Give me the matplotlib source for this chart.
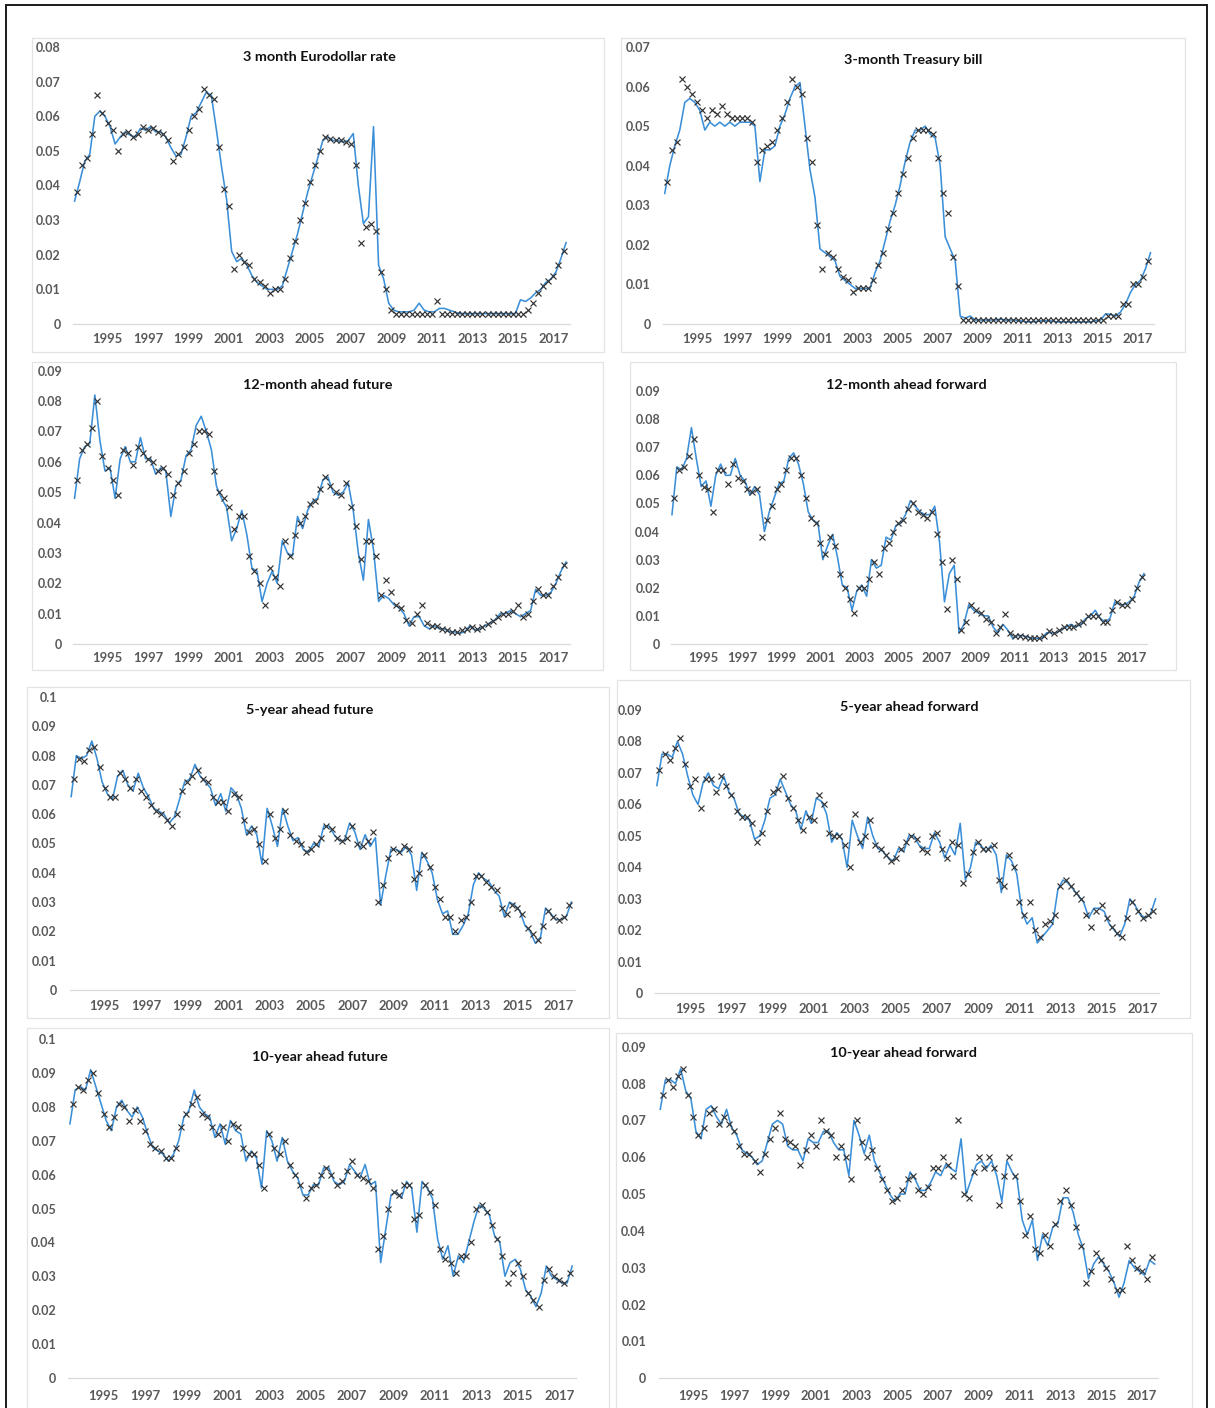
import numpy as np
import matplotlib
matplotlib.use("Agg")
import matplotlib.pyplot as plt
from matplotlib.patches import Rectangle

plt.rcParams["font.family"] = ["Lato", "DejaVu Sans"]

W, H, DPI = 1215, 1408, 100

# Quarterly observation dates (mid-quarter) for the actual series, 1993Q2 .. 2017Q3
LINE_YEARS = [1993] * 3 + [y for y in range(1994, 2017) for _ in range(4)] + [2017] * 3
LINE_QTRS = [2, 3, 4] + [1, 2, 3, 4] * 23 + [1, 2, 3]
# Model values, dated at quarter starts, 1993Q3 .. 2017Q3
MARK_YEARS = [1993] * 2 + [y for y in range(1994, 2017) for _ in range(4)] + [2017] * 3
MARK_QTRS = [3, 4] + [1, 2, 3, 4] * 23 + [1, 2, 3]

YEAR_TICKS = list(range(1995, 2018, 2))
YEAR_LABELS = [str(y) for y in YEAR_TICKS]

TITLES = ["3 month Eurodollar rate", "3-month Treasury bill",
          "12-month ahead future", "12-month ahead forward",
          "5-year ahead future", "5-year ahead forward",
          "10-year ahead future", "10-year ahead forward"]
Y_MAX = [0.08, 0.07, 0.09, 0.09, 0.10, 0.09, 0.10, 0.09]

eurodollar_actual = [
    0.0355, 0.041, 0.047,
    0.049, 0.060, 0.0615, 0.060,
    0.057, 0.052, 0.054, 0.0555,
    0.0545, 0.054, 0.0565, 0.056,
    0.057, 0.0555, 0.0555, 0.054,
    0.051, 0.0485, 0.049, 0.054,
    0.060, 0.061, 0.064, 0.067,
    0.066, 0.056, 0.0455, 0.036,
    0.021, 0.018, 0.019, 0.017,
    0.014, 0.012, 0.011, 0.010,
    0.010, 0.010, 0.011, 0.016,
    0.021, 0.026, 0.032, 0.038,
    0.043, 0.048, 0.053, 0.054,
    0.053, 0.053, 0.0525, 0.053,
    0.055, 0.040, 0.029, 0.031,
    0.057, 0.017, 0.013, 0.006,
    0.004, 0.0035, 0.0035, 0.0035,
    0.004, 0.006, 0.004, 0.0035,
    0.0035, 0.0045, 0.0045, 0.004,
    0.0035, 0.003, 0.003, 0.003,
    0.003, 0.003, 0.003, 0.003,
    0.003, 0.003, 0.003, 0.003,
    0.003, 0.007, 0.0065, 0.0075,
    0.009, 0.010, 0.012, 0.013,
    0.015, 0.019, 0.0235]
eurodollar_model = [
    0.038, 0.046,
    0.048, 0.055, 0.066, 0.061,
    0.058, 0.056, 0.050, 0.055,
    0.0555, 0.054, 0.055, 0.057,
    0.056, 0.0565, 0.0555, 0.055,
    0.053, 0.047, 0.049, 0.051,
    0.056, 0.060, 0.062, 0.068,
    0.066, 0.065, 0.051, 0.039,
    0.034, 0.016, 0.020, 0.018,
    0.017, 0.013, 0.012, 0.011,
    0.009, 0.010, 0.010, 0.013,
    0.019, 0.024, 0.030, 0.035,
    0.041, 0.046, 0.050, 0.054,
    0.0535, 0.053, 0.053, 0.0525,
    0.052, 0.046, 0.0235, 0.028,
    0.029, 0.027, 0.015, 0.010,
    0.004, 0.003, 0.003, 0.003,
    0.003, 0.003, 0.003, 0.003,
    0.003, 0.0065, 0.003, 0.003,
    0.003, 0.003, 0.003, 0.003,
    0.003, 0.003, 0.003, 0.003,
    0.003, 0.003, 0.003, 0.003,
    0.003, 0.003, 0.003, 0.004,
    0.006, 0.009, 0.011, 0.0125,
    0.014, 0.017, 0.021]

tbill_actual = [
    0.033, 0.040, 0.045,
    0.049, 0.056, 0.057, 0.056,
    0.054, 0.049, 0.051, 0.050,
    0.051, 0.050, 0.051, 0.050,
    0.051, 0.051, 0.051, 0.050,
    0.036, 0.044, 0.044, 0.045,
    0.050, 0.053, 0.057, 0.060,
    0.061, 0.050, 0.039, 0.032,
    0.019, 0.018, 0.017, 0.016,
    0.012, 0.011, 0.010, 0.009,
    0.009, 0.009, 0.009, 0.013,
    0.016, 0.021, 0.026, 0.030,
    0.035, 0.041, 0.046, 0.049,
    0.049, 0.050, 0.048, 0.047,
    0.040, 0.022, 0.019, 0.016,
    0.002, 0.0015, 0.002, 0.001,
    0.001, 0.001, 0.001, 0.001,
    0.0012, 0.001, 0.001, 0.001,
    0.0008, 0.0006, 0.0005, 0.0006,
    0.0008, 0.0008, 0.0008, 0.0006,
    0.0005, 0.0005, 0.0005, 0.0005,
    0.0005, 0.0005, 0.0005, 0.0008,
    0.001, 0.0025, 0.0025, 0.002,
    0.003, 0.005, 0.008, 0.010,
    0.011, 0.014, 0.018]
tbill_model = [
    0.036, 0.044,
    0.046, 0.062, 0.060, 0.058,
    0.056, 0.054, 0.052, 0.054,
    0.053, 0.055, 0.053, 0.052,
    0.052, 0.052, 0.052, 0.051,
    0.041, 0.044, 0.045, 0.046,
    0.049, 0.052, 0.056, 0.062,
    0.060, 0.058, 0.047, 0.041,
    0.025, 0.014, 0.018, 0.017,
    0.014, 0.012, 0.011, 0.008,
    0.009, 0.009, 0.009, 0.011,
    0.015, 0.018, 0.024, 0.028,
    0.033, 0.038, 0.042, 0.047,
    0.049, 0.049, 0.049, 0.048,
    0.042, 0.033, 0.028, 0.017,
    0.0095, 0.001, 0.001, 0.001,
    0.001, 0.001, 0.001, 0.001,
    0.001, 0.001, 0.001, 0.001,
    0.001, 0.001, 0.001, 0.001,
    0.001, 0.001, 0.001, 0.001,
    0.001, 0.001, 0.001, 0.001,
    0.001, 0.001, 0.001, 0.001,
    0.001, 0.001, 0.002, 0.002,
    0.002, 0.005, 0.005, 0.010,
    0.010, 0.012, 0.016]

future12_actual = [
    0.048, 0.061, 0.065,
    0.066, 0.082, 0.067, 0.057,
    0.058, 0.048, 0.061, 0.065,
    0.060, 0.060, 0.068, 0.061,
    0.061, 0.056, 0.058, 0.057,
    0.042, 0.052, 0.054, 0.062,
    0.064, 0.072, 0.075, 0.070,
    0.064, 0.052, 0.048, 0.045,
    0.034, 0.038, 0.044, 0.036,
    0.025, 0.024, 0.014, 0.020,
    0.024, 0.020, 0.034, 0.030,
    0.029, 0.042, 0.038, 0.044,
    0.047, 0.048, 0.054, 0.055,
    0.050, 0.049, 0.050, 0.053,
    0.044, 0.030, 0.021, 0.041,
    0.031, 0.014, 0.016, 0.015,
    0.013, 0.012, 0.010, 0.006,
    0.009, 0.009, 0.006, 0.005,
    0.006, 0.005, 0.005, 0.004,
    0.004, 0.0035, 0.004, 0.006,
    0.0045, 0.005, 0.006, 0.007,
    0.008, 0.010, 0.010, 0.011,
    0.010, 0.009, 0.010, 0.011,
    0.018, 0.016, 0.016, 0.017,
    0.020, 0.024, 0.027]
future12_model = [
    0.054, 0.064,
    0.066, 0.071, 0.080, 0.062,
    0.058, 0.054, 0.049, 0.064,
    0.063, 0.059, 0.065, 0.063,
    0.061, 0.060, 0.057, 0.058,
    0.056, 0.049, 0.053, 0.057,
    0.063, 0.066, 0.070, 0.070,
    0.069, 0.057, 0.050, 0.048,
    0.045, 0.038, 0.042, 0.042,
    0.029, 0.024, 0.020, 0.013,
    0.025, 0.022, 0.019, 0.034,
    0.029, 0.036, 0.040, 0.042,
    0.046, 0.047, 0.051, 0.055,
    0.052, 0.050, 0.049, 0.053,
    0.045, 0.039, 0.028, 0.034,
    0.034, 0.029, 0.016, 0.021,
    0.017, 0.013, 0.012, 0.008,
    0.007, 0.010, 0.013, 0.007,
    0.006, 0.006, 0.005, 0.0045,
    0.004, 0.004, 0.0045, 0.005,
    0.0055, 0.005, 0.0055, 0.0065,
    0.0075, 0.009, 0.010, 0.010,
    0.011, 0.013, 0.009, 0.010,
    0.014, 0.018, 0.016, 0.016,
    0.019, 0.022, 0.026]

forward12_actual = [
    0.046, 0.063, 0.062,
    0.066, 0.077, 0.066, 0.056,
    0.058, 0.049, 0.060, 0.064,
    0.060, 0.060, 0.066, 0.060,
    0.058, 0.053, 0.056, 0.053,
    0.040, 0.047, 0.052, 0.057,
    0.058, 0.066, 0.068, 0.064,
    0.057, 0.047, 0.044, 0.043,
    0.030, 0.035, 0.039, 0.031,
    0.021, 0.020, 0.012, 0.019,
    0.021, 0.017, 0.030, 0.027,
    0.028, 0.038, 0.037, 0.042,
    0.043, 0.046, 0.051, 0.049,
    0.047, 0.046, 0.046, 0.049,
    0.036, 0.015, 0.025, 0.028,
    0.004, 0.007, 0.014, 0.012,
    0.011, 0.010, 0.010, 0.006,
    0.004, 0.007, 0.005, 0.002,
    0.003, 0.003, 0.0025, 0.002,
    0.002, 0.002, 0.004, 0.004,
    0.004, 0.005, 0.006, 0.007,
    0.006, 0.007, 0.009, 0.010,
    0.012, 0.009, 0.008, 0.009,
    0.015, 0.014, 0.014, 0.015,
    0.017, 0.022, 0.025]
forward12_model = [
    0.052, 0.062,
    0.063, 0.067, 0.073, 0.060,
    0.056, 0.055, 0.047, 0.062,
    0.062, 0.057, 0.064, 0.059,
    0.058, 0.055, 0.054, 0.055,
    0.038, 0.044, 0.049, 0.055,
    0.057, 0.062, 0.066, 0.066,
    0.060, 0.052, 0.045, 0.043,
    0.036, 0.032, 0.038, 0.035,
    0.025, 0.020, 0.016, 0.011,
    0.020, 0.020, 0.023, 0.029,
    0.025, 0.034, 0.036, 0.040,
    0.043, 0.044, 0.048, 0.050,
    0.047, 0.046, 0.045, 0.047,
    0.039, 0.029, 0.0125, 0.030,
    0.023, 0.005, 0.008, 0.014,
    0.012, 0.011, 0.009, 0.008,
    0.004, 0.006, 0.0105, 0.004,
    0.003, 0.003, 0.0025, 0.002,
    0.002, 0.002, 0.003, 0.0045,
    0.004, 0.005, 0.006, 0.006,
    0.006, 0.007, 0.008, 0.010,
    0.010, 0.010, 0.008, 0.008,
    0.012, 0.015, 0.014, 0.014,
    0.016, 0.020, 0.024]

future5_actual = [
    0.066, 0.080, 0.079,
    0.080, 0.085, 0.079, 0.071,
    0.067, 0.065, 0.073, 0.075,
    0.070, 0.068, 0.074, 0.069,
    0.066, 0.062, 0.061, 0.060,
    0.057, 0.059, 0.065, 0.071,
    0.072, 0.077, 0.073, 0.071,
    0.069, 0.063, 0.067, 0.061,
    0.069, 0.067, 0.062, 0.053,
    0.056, 0.053, 0.043, 0.062,
    0.056, 0.049, 0.062, 0.056,
    0.051, 0.052, 0.048, 0.047,
    0.050, 0.049, 0.056, 0.056,
    0.053, 0.051, 0.051, 0.057,
    0.054, 0.048, 0.053, 0.049,
    0.052, 0.029, 0.039, 0.048,
    0.048, 0.047, 0.049, 0.046,
    0.034, 0.047, 0.044, 0.040,
    0.031, 0.026, 0.027, 0.019,
    0.019, 0.022, 0.026, 0.036,
    0.040, 0.038, 0.037, 0.034,
    0.032, 0.025, 0.030, 0.029,
    0.027, 0.022, 0.020, 0.016,
    0.018, 0.028, 0.026, 0.024,
    0.024, 0.025, 0.030]
future5_model = [
    0.072, 0.079,
    0.078, 0.082, 0.083, 0.076,
    0.069, 0.066, 0.066, 0.074,
    0.072, 0.069, 0.072, 0.068,
    0.066, 0.063, 0.061, 0.060,
    0.058, 0.056, 0.060, 0.068,
    0.071, 0.073, 0.075, 0.072,
    0.071, 0.066, 0.064, 0.064,
    0.061, 0.067, 0.066, 0.058,
    0.054, 0.055, 0.050, 0.044,
    0.060, 0.052, 0.055, 0.061,
    0.053, 0.051, 0.050, 0.047,
    0.048, 0.050, 0.052, 0.056,
    0.055, 0.052, 0.051, 0.052,
    0.056, 0.050, 0.049, 0.051,
    0.054, 0.030, 0.036, 0.045,
    0.048, 0.047, 0.049, 0.048,
    0.038, 0.040, 0.046, 0.042,
    0.035, 0.031, 0.025, 0.025,
    0.020, 0.024, 0.025, 0.030,
    0.039, 0.039, 0.037, 0.035,
    0.034, 0.028, 0.026, 0.029,
    0.028, 0.026, 0.021, 0.019,
    0.017, 0.022, 0.027, 0.025,
    0.024, 0.025, 0.029]

forward5_actual = [
    0.066, 0.076, 0.076,
    0.075, 0.080, 0.076, 0.069,
    0.063, 0.060, 0.067, 0.070,
    0.066, 0.065, 0.069, 0.064,
    0.062, 0.057, 0.056, 0.055,
    0.049, 0.050, 0.055, 0.062,
    0.063, 0.068, 0.064, 0.060,
    0.058, 0.052, 0.058, 0.054,
    0.062, 0.061, 0.057, 0.048,
    0.051, 0.049, 0.040, 0.055,
    0.050, 0.046, 0.056, 0.050,
    0.046, 0.045, 0.043, 0.042,
    0.046, 0.045, 0.050, 0.050,
    0.047, 0.046, 0.046, 0.051,
    0.048, 0.043, 0.047, 0.044,
    0.054, 0.036, 0.040, 0.048,
    0.047, 0.045, 0.047, 0.044,
    0.032, 0.044, 0.042, 0.038,
    0.026, 0.022, 0.024, 0.016,
    0.018, 0.020, 0.022, 0.033,
    0.036, 0.035, 0.033, 0.031,
    0.029, 0.024, 0.027, 0.027,
    0.026, 0.022, 0.020, 0.018,
    0.022, 0.030, 0.028, 0.025,
    0.024, 0.025, 0.030]
forward5_model = [
    0.071, 0.076,
    0.074, 0.078, 0.081, 0.073,
    0.066, 0.068, 0.059, 0.068,
    0.068, 0.064, 0.069, 0.066,
    0.063, 0.058, 0.056, 0.056,
    0.054, 0.048, 0.051, 0.058,
    0.064, 0.065, 0.069, 0.062,
    0.059, 0.055, 0.052, 0.056,
    0.055, 0.063, 0.060, 0.051,
    0.050, 0.050, 0.047, 0.040,
    0.057, 0.048, 0.050, 0.055,
    0.047, 0.046, 0.044, 0.042,
    0.043, 0.046, 0.048, 0.050,
    0.049, 0.046, 0.045, 0.050,
    0.051, 0.046, 0.043, 0.048,
    0.047, 0.035, 0.038, 0.045,
    0.048, 0.046, 0.046, 0.047,
    0.036, 0.034, 0.044, 0.040,
    0.029, 0.025, 0.029, 0.020,
    0.018, 0.022, 0.023, 0.025,
    0.034, 0.036, 0.034, 0.032,
    0.030, 0.025, 0.021, 0.026,
    0.028, 0.024, 0.021, 0.019,
    0.018, 0.024, 0.029, 0.026,
    0.024, 0.025, 0.026]

future10_actual = [
    0.075, 0.085, 0.086,
    0.085, 0.091, 0.086, 0.081,
    0.076, 0.073, 0.080, 0.082,
    0.079, 0.077, 0.080, 0.077,
    0.072, 0.068, 0.067, 0.066,
    0.064, 0.066, 0.070, 0.077,
    0.079, 0.085, 0.080, 0.078,
    0.077, 0.071, 0.075, 0.069,
    0.076, 0.073, 0.072, 0.064,
    0.067, 0.065, 0.056, 0.073,
    0.070, 0.064, 0.071, 0.064,
    0.061, 0.059, 0.054, 0.054,
    0.057, 0.057, 0.062, 0.062,
    0.058, 0.057, 0.058, 0.063,
    0.061, 0.059, 0.063, 0.057,
    0.058, 0.034, 0.044, 0.054,
    0.055, 0.053, 0.058, 0.056,
    0.043, 0.058, 0.056, 0.053,
    0.041, 0.035, 0.039, 0.030,
    0.036, 0.034, 0.040, 0.046,
    0.051, 0.050, 0.048, 0.042,
    0.040, 0.030, 0.034, 0.035,
    0.032, 0.026, 0.024, 0.021,
    0.025, 0.033, 0.030, 0.029,
    0.028, 0.028, 0.033]
future10_model = [
    0.081, 0.086,
    0.085, 0.088, 0.090, 0.084,
    0.078, 0.074, 0.077, 0.081,
    0.080, 0.076, 0.079, 0.076,
    0.073, 0.069, 0.068, 0.067,
    0.065, 0.065, 0.068, 0.074,
    0.078, 0.081, 0.083, 0.078,
    0.077, 0.074, 0.072, 0.074,
    0.070, 0.075, 0.074, 0.068,
    0.066, 0.066, 0.063, 0.056,
    0.072, 0.068, 0.066, 0.070,
    0.063, 0.060, 0.057, 0.053,
    0.056, 0.057, 0.060, 0.062,
    0.060, 0.057, 0.058, 0.061,
    0.064, 0.060, 0.059, 0.058,
    0.056, 0.038, 0.042, 0.050,
    0.055, 0.054, 0.057, 0.057,
    0.047, 0.048, 0.057, 0.055,
    0.051, 0.038, 0.035, 0.034,
    0.031, 0.036, 0.036, 0.040,
    0.050, 0.051, 0.049, 0.045,
    0.041, 0.036, 0.028, 0.031,
    0.034, 0.030, 0.025, 0.023,
    0.021, 0.029, 0.032, 0.030,
    0.029, 0.028, 0.031]

forward10_actual = [
    0.073, 0.081, 0.081,
    0.080, 0.084, 0.078, 0.076,
    0.067, 0.065, 0.073, 0.074,
    0.071, 0.069, 0.073, 0.068,
    0.066, 0.062, 0.061, 0.060,
    0.058, 0.059, 0.064, 0.069,
    0.070, 0.069, 0.063, 0.062,
    0.062, 0.059, 0.065, 0.064,
    0.064, 0.067, 0.067, 0.064,
    0.062, 0.062, 0.055, 0.070,
    0.066, 0.061, 0.066, 0.059,
    0.056, 0.053, 0.050, 0.048,
    0.050, 0.050, 0.056, 0.054,
    0.051, 0.051, 0.053, 0.056,
    0.055, 0.058, 0.057, 0.056,
    0.065, 0.050, 0.054, 0.058,
    0.059, 0.057, 0.059, 0.055,
    0.048, 0.059, 0.056, 0.054,
    0.043, 0.039, 0.043, 0.032,
    0.039, 0.036, 0.041, 0.042,
    0.049, 0.049, 0.045, 0.039,
    0.035, 0.027, 0.031, 0.033,
    0.031, 0.029, 0.026, 0.022,
    0.026, 0.032, 0.030, 0.029,
    0.028, 0.032, 0.031]
forward10_model = [
    0.077, 0.081,
    0.079, 0.082, 0.084, 0.077,
    0.071, 0.066, 0.068, 0.072,
    0.073, 0.069, 0.071, 0.069,
    0.067, 0.063, 0.061, 0.061,
    0.059, 0.056, 0.061, 0.065,
    0.068, 0.072, 0.065, 0.064,
    0.063, 0.058, 0.062, 0.066,
    0.063, 0.070, 0.067, 0.066,
    0.060, 0.063, 0.060, 0.054,
    0.070, 0.064, 0.060, 0.062,
    0.057, 0.054, 0.051, 0.048,
    0.049, 0.051, 0.054, 0.055,
    0.051, 0.050, 0.052, 0.057,
    0.057, 0.060, 0.058, 0.055,
    0.070, 0.050, 0.049, 0.056,
    0.060, 0.057, 0.060, 0.057,
    0.047, 0.055, 0.060, 0.055,
    0.048, 0.039, 0.044, 0.035,
    0.034, 0.039, 0.036, 0.042,
    0.048, 0.051, 0.047, 0.041,
    0.036, 0.026, 0.029, 0.034,
    0.032, 0.030, 0.027, 0.024,
    0.024, 0.036, 0.032, 0.030,
    0.029, 0.027, 0.033]

ACTUAL = [eurodollar_actual, tbill_actual, future12_actual, forward12_actual,
          future5_actual, forward5_actual, future10_actual, forward10_actual]
MODEL = [eurodollar_model, tbill_model, future12_model, forward12_model,
         future5_model, forward5_model, future10_model, forward10_model]

# Panel geometry in pixels: chart box, y pixel of top/zero gridline,
# x pixel of the 1995 / 2017 labels, right edge of y labels, x-label row, title centre
PANELS = [
    dict(box=(32, 38, 604, 352), ytop=47, ybot=324, x95=107.5, x17=553.4, lab=61, xlab=340, title=(319, 57)),
    dict(box=(621, 38, 1185, 352), ytop=47, ybot=324, x95=697.3, x17=1138, lab=651, xlab=340, title=(913, 60)),
    dict(box=(32, 362, 603, 670), ytop=370.7, ybot=644, x95=107.5, x17=553.4, lab=62, xlab=659, title=(318, 385)),
    dict(box=(630, 362, 1176, 670), ytop=391, ybot=644, x95=703.6, x17=1131.8, lab=660, xlab=659, title=(906, 385)),
    dict(box=(27, 687, 609, 1018), ytop=697, ybot=990, x95=104.7, x17=558.5, lab=57, xlab=1007, title=(310, 710)),
    dict(box=(617, 680, 1190, 1018), ytop=710, ybot=993.3, x95=690.3, x17=1142.7, lab=643, xlab=1010, title=(909, 707)),
    dict(box=(27, 1028, 609, 1415), ytop=1039.3, ybot=1377.7, x95=103.6, x17=559.3, lab=56, xlab=1397, title=(320, 1057)),
    dict(box=(616, 1033, 1192, 1415), ytop=1046.7, ybot=1378.3, x95=693.4, x17=1142, lab=646, xlab=1397, title=(904, 1053)),
]

XMIN, XMAX = 1993.3, 2017.8
BLUE = "#3b8fd9"
MARK = "#333333"
LABEL = "#595959"
GRID = "#d9d9d9"

line_t = np.array(LINE_YEARS) + (np.array(LINE_QTRS) - 1) * 0.25 + 0.125
mark_t = np.array(MARK_YEARS) + (np.array(MARK_QTRS) - 1) * 0.25

fig = plt.figure(figsize=(W / DPI, H / DPI), dpi=DPI)
fig.patch.set_facecolor("white")


def fx(x):
    return x / W


def fy(y):
    return 1 - y / H


# outer frame
fig.patches.append(Rectangle((fx(6), fy(1420)), fx(1207) - fx(6), fy(5) - fy(1420),
                             transform=fig.transFigure, fill=False,
                             edgecolor="#1a1a1a", linewidth=1.4, zorder=0))

for spec, title, ymax, actual, model in zip(PANELS, TITLES, Y_MAX, ACTUAL, MODEL):
    bx0, by0, bx1, by1 = spec["box"]
    fig.patches.append(Rectangle((fx(bx0), fy(by1)), fx(bx1) - fx(bx0), fy(by0) - fy(by1),
                                 transform=fig.transFigure, fill=False,
                                 edgecolor="#e3e3e3", linewidth=0.9, zorder=0))
    ppy = (spec["x17"] - spec["x95"]) / 22.0
    left = spec["x95"] - (1995 - XMIN) * ppy
    right = spec["x17"] + (XMAX - 2017) * ppy
    ax = fig.add_axes([fx(left), fy(spec["ybot"]), fx(right) - fx(left),
                       fy(spec["ytop"]) - fy(spec["ybot"])])
    ax.set_facecolor("none")
    ax.plot(line_t, actual, color=BLUE, linewidth=1.15, zorder=2)
    ax.plot(mark_t, model, linestyle="none", marker="x", markersize=3.8,
            markeredgewidth=0.85, color=MARK, zorder=3)
    ax.set_xlim(XMIN, XMAX)
    ax.set_ylim(0, ymax)

    yt = np.round(np.arange(0, ymax + 1e-9, 0.01), 2)
    ax.set_yticks(yt)
    ax.set_yticklabels([f"{v:g}" for v in yt])
    ax.set_xticks(YEAR_TICKS)
    ax.set_xticklabels(YEAR_LABELS)
    for s in ("top", "right", "left"):
        ax.spines[s].set_visible(False)
    ax.spines["bottom"].set_color(GRID)
    ax.spines["bottom"].set_linewidth(0.9)
    ypad = (left - spec["lab"]) * 72 / DPI
    xpad = (spec["xlab"] - 7 - spec["ybot"]) * 72 / DPI
    ax.tick_params(axis="y", length=0, pad=ypad, labelsize=9, labelcolor=LABEL)
    ax.tick_params(axis="x", length=0, pad=xpad, labelsize=9.4, labelcolor=LABEL)
    for lab in ax.get_xticklabels() + ax.get_yticklabels():
        lab.set_fontweight("bold")

    tx, ty = spec["title"]
    fig.text(fx(tx), fy(ty), title, ha="center", va="center",
             fontsize=10.4, fontweight="bold", color="#111111")

fig.savefig("out.png", dpi=DPI)
